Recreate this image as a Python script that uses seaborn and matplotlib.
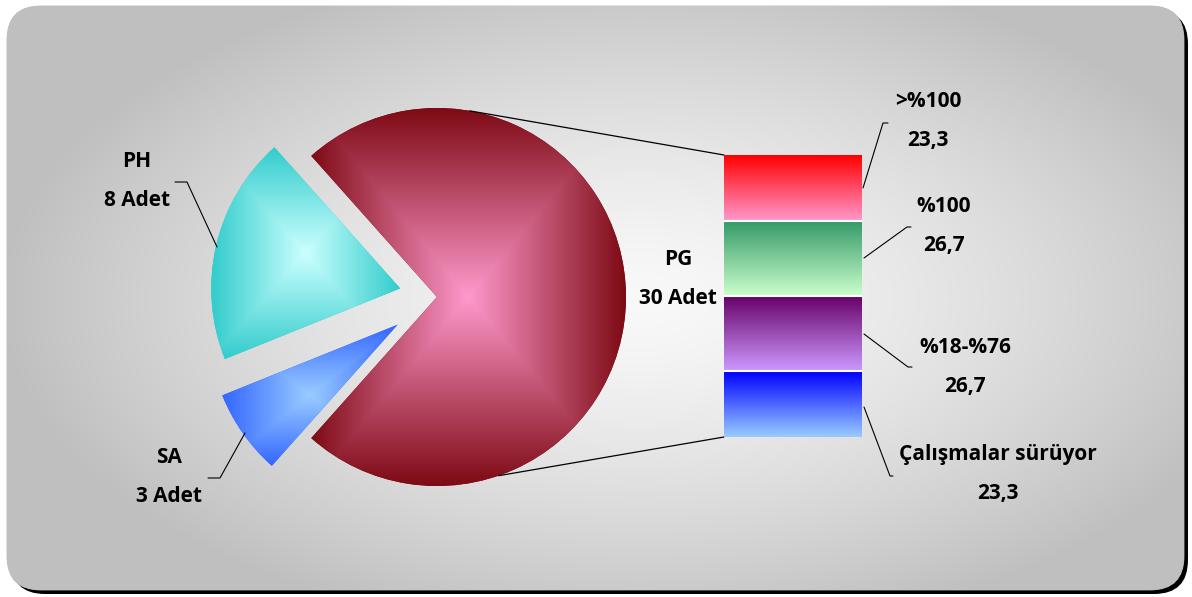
import numpy as np
import pandas as pd
import seaborn as sns
import matplotlib.pyplot as plt
from matplotlib import font_manager
from matplotlib.patches import FancyBboxPatch
from matplotlib.colors import to_rgb

# pasta: adet
pie_labels = ["PG", "PH", "SA"]
pie_counts = [30, 8, 3]

# PG cubugu (yuzde), yukaridan asagiya
bar_labels = [">%100", "%100", "%18-%76", "Çalışmalar sürüyor"]
bar_values = [23.3, 26.7, 26.7, 23.3]

# renkler (ic/dis, ust/alt)
pie_inner = ["#ff99cc", "#ccffff", "#99ccff"]
pie_outer = ["#7e0a14", "#33cccc", "#3366ff"]
bar_top = ["#ff0000", "#339966", "#660066", "#0000ff"]
bar_bottom = ["#ff99cc", "#ccffcc", "#cc99ff", "#99ccff"]

W, H = 1192, 597
sns.set_theme(style="white")

# kalin hali kurulu olan ilk yazi tipi
font = 'DejaVu Sans'
for f in ['Open Sans', 'Noto Sans', 'Lato', 'DejaVu Sans']:
    try:
        path = font_manager.findfont(font_manager.FontProperties(family=f, weight='bold'),
                                     fallback_to_default=False)
        if 'bold' in path.lower() or 'variable' in path.lower() or 'wght' in path.lower():
            font = f
            break
    except Exception:
        pass
plt.rcParams['font.family'] = [font, 'DejaVu Sans']
plt.rcParams['text.color'] = 'black'

fig = plt.figure(figsize=(W / 100, H / 100), dpi=100)
fig.patch.set_facecolor('white')
ax = fig.add_axes([0, 0, 1, 1])
ax.set_xlim(0, W)
ax.set_ylim(0, H)
ax.axis('off')


def Y(y):
    # resim koordinatindan (yukaridan) eksen koordinatina
    return H - y


# cerceve + golge
shadow = FancyBboxPatch((11, 3), 1177, 584, boxstyle="round,pad=0,rounding_size=34",
                        fc='black', ec='none', zorder=0)
frame = FancyBboxPatch((7, 7), 1177, 584, boxstyle="round,pad=0,rounding_size=34",
                       fc='#c0c0c0', ec='#b8b8b8', lw=0.6, zorder=1)
ax.add_patch(shadow)
ax.add_patch(frame)

# arka plan gradyani
yy, xx = np.mgrid[0:H, 0:W] + 0.5
t = np.clip(np.hypot((xx - 640) / 640, (yy - 297) / 340), 0, 1) ** 1.4
gray = 0.975 - t * (0.975 - 0.75)
bg = ax.imshow(np.dstack([gray] * 3), extent=(0, W, 0, H), origin='lower', zorder=1.5)
bg.set_clip_path(frame)


def fill_square(patch, c_in, c_out, z):
    bb = patch.get_path().get_extents()
    u = np.linspace(-1, 1, 240)
    U, V = np.meshgrid(u, u)
    tt = np.maximum(np.abs(U), np.abs(V))[..., None]
    c_in, c_out = np.array(to_rgb(c_in)), np.array(to_rgb(c_out))
    img = c_in + (c_out - c_in) * tt
    im = ax.imshow(img, extent=(bb.x0, bb.x1, bb.y0, bb.y1), origin='lower',
                   zorder=z, interpolation='bilinear')
    im.set_clip_path(patch)


# pasta (explode veri biriminde: yaricap * oran)
cx, cy, R = 437, 300, 189
start = -180 * pie_counts[0] / sum(pie_counts)
wedges, _ = ax.pie(pie_counts, explode=[0, 0.2 * R, 0.255 * R], startangle=start,
                   counterclock=True, center=(cx, cy), radius=R, frame=True,
                   colors=pie_outer, wedgeprops=dict(lw=0, zorder=3))
for w, ci, co in zip(wedges, pie_inner, pie_outer):
    fill_square(w, ci, co, 4)

# cubuk
bx0, bx1, by_top, by_bot = 724, 862, 155, 437
axb = fig.add_axes([bx0 / W, (H - by_bot) / H, (bx1 - bx0) / W, (by_bot - by_top) / H])
df = pd.DataFrame({'grup': 'PG', 'dilim': bar_labels, 'deger': bar_values})
df['ust'] = df['deger'][::-1].cumsum()[::-1]
df['alt'] = df['ust'] - df['deger']
sns.barplot(data=df, x='grup', y='ust', hue='dilim', hue_order=bar_labels, dodge=False,
            width=1.0, palette=dict(zip(bar_labels, bar_top)), saturation=1,
            legend=False, ax=axb)
for p in axb.patches:
    row = df.iloc[(df['ust'] - p.get_height()).abs().argmin()]
    i = bar_labels.index(row['dilim'])
    ctop, cbot = np.array(to_rgb(bar_top[i])), np.array(to_rgb(bar_bottom[i]))
    g = np.linspace(0, 1, 200)[:, None, None]
    img = np.repeat(ctop + (cbot - ctop) * g, 2, axis=1)
    axb.imshow(img, extent=(p.get_x(), p.get_x() + p.get_width(), row['alt'], row['ust']),
               origin='upper', aspect='auto', zorder=5, interpolation='bilinear')
axb.set_xlim(-0.5, 0.5)
axb.set_ylim(0, df['ust'].max())
axb.axis('off')
axb.patch.set_alpha(0)
axb.hlines(df['alt'][df['alt'] > 0], -0.5, 0.5, color='white', lw=1.5, zorder=6)

# seri cizgileri
for ang, by in [(80, by_top), (-71, by_bot)]:
    a = np.radians(ang)
    ax.plot([cx + R * np.cos(a), bx0], [cy + R * np.sin(a), Y(by)], color='black', lw=0.9, zorder=6)

# etiketler
fs = 15
txt = dict(ha='center', va='baseline', fontsize=fs, fontweight='bold', color='black', zorder=7)
pie_pos = [(678, 265), (137, 167), (169, 463)]
for lab, n, (x, y) in zip(pie_labels, pie_counts, pie_pos):
    ax.text(x, Y(y), lab, **txt)
    ax.text(x, Y(y + 39), f"{n} Adet", **txt)

bar_pos = [(928, 107), (944, 212), (965, 353), (998, 460)]
for lab, v, (x, y) in zip(bar_labels, bar_values, bar_pos):
    ax.text(x, Y(y), lab, **txt)
    ax.text(x, Y(y + 39), f"{v:.1f}".replace('.', ','), **txt)

# kilavuz cizgileri
leaders = [
    [(175, 182), (187, 182), (217, 247)],
    [(208, 478), (220, 478), (245, 433)],
    [(863, 188), (883, 123), (888, 123)],
    [(864, 258), (907, 227), (911, 227)],
    [(864, 334), (908, 367), (912, 367)],
    [(864, 407), (890, 476), (893, 476)],
]
for pts in leaders:
    ax.plot([p[0] for p in pts], [Y(p[1]) for p in pts], color='black', lw=0.8, zorder=6)

ax.set_xlim(0, W)
ax.set_ylim(0, H)
ax.set_aspect('auto')
fig.savefig("out.png", dpi=100, facecolor='white')
